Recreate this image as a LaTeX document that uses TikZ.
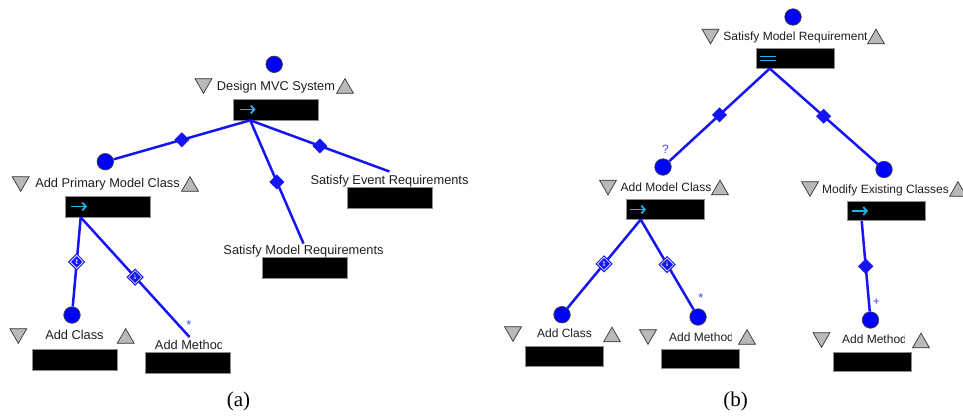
\documentclass[tikz,border=0pt]{standalone}
\usepackage{fontspec}
\setmainfont{Liberation Sans}
\newfontfamily\capfont{Liberation Serif}
\newfontfamily\symfont{DejaVu Sans}
\usetikzlibrary{shapes.geometric,arrows.meta,calc}
\definecolor{lnblue}{RGB}{20,20,245}
\definecolor{dotblue}{RGB}{0,0,255}
\definecolor{tgray}{RGB}{185,185,185}
\definecolor{acyan}{RGB}{30,180,230}
\definecolor{txt}{RGB}{30,30,30}
\definecolor{multblue}{RGB}{70,70,255}
\tikzset{
 ball/.style={circle, fill=dotblue, draw=black!75, line width=0.7, minimum size=16.5, inner sep=0},
 tridown/.style={regular polygon, regular polygon sides=3, shape border rotate=180, fill=tgray, draw=black!80, line width=0.7, minimum size=19.5, inner sep=0},
 triup/.style={regular polygon, regular polygon sides=3, fill=tgray, draw=black!80, line width=0.7, minimum size=19.5, inner sep=0},
 boxA/.style={rectangle, fill=black, draw=black!45, line width=0.6, minimum width=85, minimum height=21, inner sep=0},
 boxB/.style={boxA, minimum width=78, minimum height=19.5},
 lbl/.style={inner sep=0, text=txt, font=\fontsize{12.8}{14}\selectfont},
 lblB/.style={lbl, font=\fontsize{12}{14}\selectfont},
 link/.style={draw=lnblue, line width=2.5},
 dia/.style={diamond, fill=lnblue, inner sep=0, minimum width=16, minimum height=16},
 diaarr/.style={diamond, fill=lnblue, draw=lnblue, line width=1.2, double=white, double distance=0.6, inner sep=0, minimum width=13.5, minimum height=13.5, text=white, font=\symfont\fontsize{6.5}{6.5}\selectfont},
 mult/.style={text=multblue, inner sep=0, anchor=base},
 captxt/.style={font=\capfont\fontsize{21}{21}\selectfont, inner sep=0},
 cyanarrow/.style={draw=acyan, line width=1.8, -{Straight Barb[length=3.5pt, width=8pt]}},
 arrowbox/.style={path picture={\draw[cyanarrow] ([xshift=#1]path picture bounding box.west) -- ++(16,0);}},
 dblbox/.style={path picture={\draw[acyan, line width=1.3] ([xshift=4pt,yshift=2pt]path picture bounding box.west) -- ++(16,0) ([xshift=4pt,yshift=-2pt]path picture bounding box.west) -- ++(16,0);}},
}
\begin{document}
\begin{tikzpicture}[x=1pt,y=-1pt]
\useasboundingbox (0,0) rectangle (963,416);
% ---------------- panel (a) ----------------
\node[ball] (a0) at (274.2,64.3) {};
\node[tridown] (a0d) at (203.5,83.6) {};
\node[lbl, anchor=base] (a0t) at (276,90) {Design MVC System};
\node[triup] (a0u) at (345,88.4) {};
\node[boxA, arrowbox=6pt] (a0b) at (276,109.5) {};

\node[ball] (a1) at (105.3,161.7) {};
\node[tridown] (a1d) at (20.7,181.6) {};
\node[lbl, anchor=base] (a1t) at (107.5,187.5) {Add Primary Model Class};
\node[triup] (a1u) at (190,186.4) {};
\node[boxA, arrowbox=6pt] (a1b) at (107.5,206.5) {};

\node[lbl, anchor=base] (a3t) at (389.5,184) {Satisfy Event Requirements};
\node[boxA] (a3b) at (389.5,197.5) {};

\node[lbl, anchor=base] (a2t) at (303.5,254) {Satisfy Model Requirements};
\node[boxA] (a2b) at (304.5,267.5) {};

\node[ball] (a4) at (72,315) {};
\node[tridown] (a4d) at (18.3,333.6) {};
\node[lbl, anchor=base] (a4t) at (74.5,339) {Add Class};
\node[triup] (a4u) at (125.7,338.4) {};
\node[boxA] (a4b) at (74.5,359.5) {};

\begin{scope}
\clip (140,330) rectangle (221.3,353);
\node[lbl, anchor=base] (a5t) at (189.5,349) {Add Method};
\end{scope}
\node[boxA] (a5b) at (187.5,362.8) {};

\coordinate (a0o) at ($(a0b.south west)+(17,0)$);
\draw[link] (a0o) -- node[dia]{} (a1);
\draw[link] (a0o) -- node[dia]{} ([yshift=1pt]a2t.north);
\draw[link] (a0o) -- node[dia]{} ([yshift=3pt]a3t.north);

\coordinate (a1o) at ($(a1b.south west)+(16,0)$);
\draw[link] (a1o) -- node[diaarr]{↕} (a4);
\draw[link] (a1o) -- node[diaarr]{↓} ([yshift=2.5pt]a5t.north);
\node[mult, font=\fontsize{13}{13}\selectfont] (a5m) at (189,329.6) {*};

\node[captxt] (capa) at (238.5,401) {(a)};

% ---------------- panel (b) ----------------
\node[ball] (b0) at (793,17) {};
\node[tridown] (b0d) at (710.5,34.1) {};
\node[lblB, anchor=base] (b0t) at (795.5,40.5) {Satisfy Model Requirement};
\node[triup] (b0u) at (876,38.9) {};
\node[boxB, dblbox] (b0b) at (795,58.5) {};

\node[ball] (b1) at (663,167) {};
\node[tridown] (b1d) at (608,185.1) {};
\node[lblB, anchor=base] (b1t) at (666,191.5) {Add Model Class};
\node[triup] (b1u) at (720,189.9) {};
\node[boxB, arrowbox=4pt] (b1b) at (665,209.5) {};

\node[ball] (b2) at (884,169.5) {};
\node[tridown] (b2d) at (810,186.6) {};
\node[lblB, anchor=base] (b2t) at (885.5,193) {Modify Existing Classes};
\node[triup] (b2u) at (958,191.4) {};
\node[boxB, arrowbox=5pt] (b2b) at (886,211) {};

\node[ball] (b3) at (562,314.7) {};
\node[tridown] (b3d) at (513,331.6) {};
\node[lblB, anchor=base] (b3t) at (564.5,337.5) {Add Class};
\node[triup] (b3u) at (612,336.9) {};
\node[boxB] (b3b) at (564.5,356.5) {};

\node[ball] (b4) at (698,317) {};
\node[tridown] (b4d) at (648,334.6) {};
\begin{scope}
\clip (660,325) rectangle (731.6,346);
\node[lblB, anchor=base] (b4t) at (701.5,341) {Add Method};
\end{scope}
\node[triup] (b4u) at (747,339.4) {};
\node[boxB] (b4b) at (700,359) {};

\node[ball] (b5) at (870.5,320) {};
\node[tridown] (b5d) at (821.5,337.6) {};
\begin{scope}
\clip (833,328) rectangle (904.8,349);
\node[lblB, anchor=base] (b5t) at (874.5,343.5) {Add Method};
\end{scope}
\node[triup] (b5u) at (921,342.9) {};
\node[boxB] (b5b) at (872.5,362) {};

\coordinate (b0o) at ($(b0b.south west)+(14,0)$);
\draw[link] (b0o) -- node[dia]{} (b1);
\draw[link] (b0o) -- node[dia]{} (b2);
\node[mult, font=\fontsize{12}{12}\selectfont] (b1m) at (665.5,153) {?};

\coordinate (b1o) at ($(b1b.south west)+(15,0)$);
\draw[link] (b1o) -- node[diaarr]{↕} (b3);
\draw[link] (b1o) -- node[diaarr]{↓} (b4);
\node[mult, font=\fontsize{13}{13}\selectfont] (b4m) at (701,302.6) {*};

\coordinate (b2o) at ($(b2b.south west)+(15,0)$);
\draw[link] (b2o) -- node[dia, minimum width=16.5, minimum height=16.5]{} (b5);
\node[mult, font=\fontsize{12}{12}\selectfont] (b5m) at (876.3,305.3) {+};

\node[captxt] (capb) at (735.5,401) {(b)};
\end{tikzpicture}
\end{document}
